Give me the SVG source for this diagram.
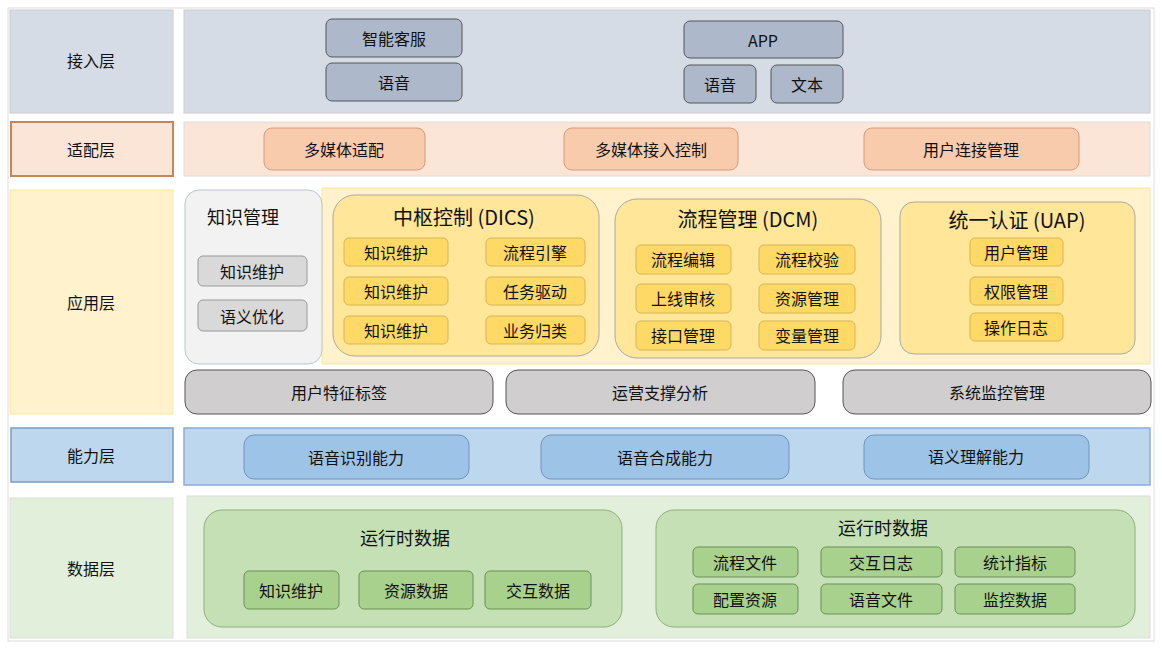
<svg xmlns="http://www.w3.org/2000/svg" width="1162" height="648" viewBox="0 0 1162 648">
<style>
text{font-family:"Noto Sans CJK SC","Noto Sans",sans-serif;font-size:16px;fill:#111;text-anchor:middle;dominant-baseline:central}
.big{font-size:20px}
.acc{fill:#adb9ca;stroke:#555;stroke-width:1}
.ada{fill:#f8cbad;stroke:#d89a7a}
.kn{fill:#d9d9d9;stroke:#999}
.ye{fill:#ffd966;stroke:#d6b656}
.grp{fill:#ffe699;stroke:#a8a8a8}
.gr{fill:#d0cece;stroke:#555}
.bl{fill:#9dc3e6;stroke:#7094c0}
.gn{fill:#a9d18e;stroke:#6a8f5a}
.gg{fill:#c5e0b4;stroke:#8cb07a}
</style>
<rect x="0" y="0" width="1162" height="648" fill="#fff"/>
<rect x="8" y="8" width="1146" height="633" fill="none" stroke="#ddd"/>
<g id="access">
<rect x="10" y="10" width="163" height="103" fill="#d6dce5" stroke="#ccc"/><text x="91" y="60">接入层</text>
<rect x="184" y="10" width="966" height="103" fill="#d6dce5" stroke="#ccc"/>
<rect class="acc" x="326" y="19" width="136" height="38" rx="6"/><text x="394" y="38">智能客服</text>
<rect class="acc" x="326" y="63" width="136" height="38" rx="6"/><text x="394" y="82">语音</text>
<rect class="acc" x="684" y="21" width="159" height="37" rx="6"/><text x="763" y="40">APP</text>
<rect class="acc" x="684" y="65" width="72" height="38" rx="6"/><text x="720" y="84">语音</text>
<rect class="acc" x="771" y="65" width="72" height="38" rx="6"/><text x="807" y="84">文本</text>
</g>
<g id="adapt">
<rect x="11" y="122" width="162" height="54" fill="#fbe5d6" stroke="#c5865a" stroke-width="2"/><text x="91" y="149">适配层</text>
<rect x="184" y="122" width="966" height="54" fill="#fbe5d6" stroke="#ddd"/>
<rect class="ada" x="264" y="128" width="161" height="42" rx="8"/><text x="344" y="149">多媒体适配</text>
<rect class="ada" x="564" y="128" width="174" height="42" rx="8"/><text x="651" y="149">多媒体接入控制</text>
<rect class="ada" x="864" y="128" width="215" height="42" rx="8"/><text x="971" y="149">用户连接管理</text>
</g>
<g id="app">
<rect x="10" y="190" width="163" height="224" fill="#fff2cc" stroke="#ffe699"/><text x="91" y="302">应用层</text>
<rect x="322" y="188" width="828" height="176" fill="#fff2cc" stroke="#ffe699"/>
<g id="km">
<rect x="185" y="190" width="137" height="174" rx="14" fill="#f2f2f2" stroke="#b8c4d4"/><text x="243" y="216" style="font-size:18px">知识管理</text>
<rect class="kn" x="198" y="256" width="109" height="30" rx="5"/><text x="252" y="271">知识维护</text>
<rect class="kn" x="198" y="300" width="109" height="31" rx="5"/><text x="252" y="316">语义优化</text>
</g>
<g id="dics">
<rect class="grp" x="333" y="195" width="266" height="161" rx="22"/><text class="big" x="464" y="216">中枢控制 (DICS)</text>
<rect class="ye" x="344" y="238" width="104" height="28" rx="5"/><text x="396" y="252">知识维护</text>
<rect class="ye" x="486" y="238" width="99" height="28" rx="5"/><text x="535" y="252">流程引擎</text>
<rect class="ye" x="344" y="277" width="104" height="28" rx="5"/><text x="396" y="291">知识维护</text>
<rect class="ye" x="486" y="277" width="99" height="28" rx="5"/><text x="535" y="291">任务驱动</text>
<rect class="ye" x="344" y="316" width="104" height="28" rx="5"/><text x="396" y="330">知识维护</text>
<rect class="ye" x="486" y="316" width="99" height="28" rx="5"/><text x="535" y="330">业务归类</text>
</g>
<g id="dcm">
<rect class="grp" x="615" y="199" width="266" height="159" rx="22"/><text class="big" x="748" y="218">流程管理 (DCM)</text>
<rect class="ye" x="636" y="245" width="95" height="29" rx="5"/><text x="683" y="259">流程编辑</text>
<rect class="ye" x="759" y="245" width="96" height="29" rx="5"/><text x="807" y="259">流程校验</text>
<rect class="ye" x="636" y="284" width="95" height="29" rx="5"/><text x="683" y="298">上线审核</text>
<rect class="ye" x="759" y="284" width="96" height="29" rx="5"/><text x="807" y="298">资源管理</text>
<rect class="ye" x="636" y="321" width="95" height="29" rx="5"/><text x="683" y="335">接口管理</text>
<rect class="ye" x="759" y="321" width="96" height="29" rx="5"/><text x="807" y="335">变量管理</text>
</g>
<g id="uap">
<rect class="grp" x="900" y="202" width="235" height="152" rx="14"/><text class="big" x="1017" y="219">统一认证 (UAP)</text>
<rect class="ye" x="970" y="238" width="93" height="28" rx="5"/><text x="1016" y="252">用户管理</text>
<rect class="ye" x="970" y="277" width="93" height="28" rx="5"/><text x="1016" y="291">权限管理</text>
<rect class="ye" x="970" y="313" width="93" height="28" rx="5"/><text x="1016" y="327">操作日志</text>
</g>
<rect class="gr" x="185" y="370" width="308" height="44" rx="12"/><text x="339" y="392">用户特征标签</text>
<rect class="gr" x="506" y="370" width="309" height="44" rx="12"/><text x="660" y="392">运营支撑分析</text>
<rect class="gr" x="843" y="370" width="308" height="44" rx="12"/><text x="997" y="392">系统监控管理</text>
</g>
<g id="ability">
<rect x="11" y="428" width="162" height="54" fill="#bdd7ee" stroke="#7a9cc4" stroke-width="1.5"/><text x="91" y="455">能力层</text>
<rect x="184" y="428" width="966" height="57" fill="#bdd7ee" stroke="#8faadc" stroke-width="1.5"/>
<rect class="bl" x="244" y="435" width="225" height="44" rx="10"/><text x="356" y="457">语音识别能力</text>
<rect class="bl" x="541" y="435" width="248" height="44" rx="10"/><text x="665" y="457">语音合成能力</text>
<rect class="bl" x="864" y="435" width="225" height="44" rx="10"/><text x="976" y="456">语义理解能力</text>
</g>
<g id="data">
<rect x="10" y="498" width="163" height="140" fill="#e2efda" stroke="#ddd"/><text x="91" y="568">数据层</text>
<rect x="187" y="496" width="963" height="142" fill="#e2efda" stroke="#ddd"/>
<rect class="gg" x="204" y="510" width="418" height="117" rx="18"/><text x="405" y="537" style="font-size:18px">运行时数据</text>
<rect class="gn" x="244" y="571" width="95" height="38" rx="5"/><text x="291" y="590">知识维护</text>
<rect class="gn" x="359" y="571" width="114" height="38" rx="5"/><text x="416" y="590">资源数据</text>
<rect class="gn" x="485" y="571" width="106" height="38" rx="5"/><text x="538" y="590">交互数据</text>
<rect class="gg" x="656" y="510" width="479" height="117" rx="18"/><text x="883" y="527" style="font-size:18px">运行时数据</text>
<rect class="gn" x="693" y="547" width="105" height="30" rx="5"/><text x="745" y="562">流程文件</text>
<rect class="gn" x="821" y="547" width="121" height="30" rx="5"/><text x="881" y="562">交互日志</text>
<rect class="gn" x="955" y="547" width="120" height="30" rx="5"/><text x="1015" y="562">统计指标</text>
<rect class="gn" x="693" y="584" width="105" height="30" rx="5"/><text x="745" y="599">配置资源</text>
<rect class="gn" x="821" y="584" width="121" height="30" rx="5"/><text x="881" y="599">语音文件</text>
<rect class="gn" x="955" y="584" width="120" height="30" rx="5"/><text x="1015" y="599">监控数据</text>
</g>
<g id="connectors"></g>
</svg>
